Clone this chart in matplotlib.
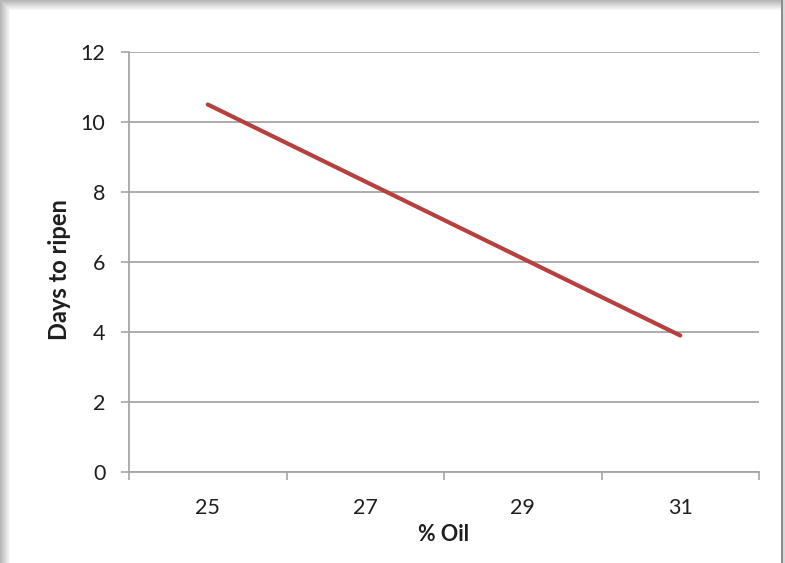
import numpy as np
import matplotlib
matplotlib.use("Agg")
import matplotlib.pyplot as plt

# ---- data ----
oil_pct = ["25", "27", "29", "31"]
days_to_ripen = [10.5, 8.3, 6.1, 3.9]
y_ticks = [0, 2, 4, 6, 8, 10, 12]

LINE_COLOR = "#b6403d"
GRID_COLOR = "#a6a6a6"
TEXT_COLOR = "#1e1e1e"

plt.rcParams["font.family"] = ["Lato", "DejaVu Sans"]

W, H, DPI = 785, 563, 100
fig = plt.figure(figsize=(W / DPI, H / DPI), dpi=DPI)

# card background with a soft drop shadow on the left/top edges
bg = np.ones((H, W))
ramp = np.linspace(0.72, 0.97, 10)
for i, v in enumerate(ramp):
    bg[i:, i] = np.minimum(bg[i:, i], v)
    bg[i, i:] = np.minimum(bg[i, i:], v)
bg[:, 781:783] = 0.55
bg[:, 783:] = 0.85
fig.figimage(np.dstack([bg, bg, bg]), xo=0, yo=0, origin="upper", zorder=-5)

ax = fig.add_axes([129 / W, 1 - 472 / H, (759 - 129) / W, (472 - 52) / H])
ax.set_facecolor("none")
ax.set_zorder(2)

x = np.arange(len(oil_pct))
ax.plot(x, days_to_ripen, color=LINE_COLOR, lw=3.0, solid_capstyle="round", zorder=3)

ax.set_xlim(-0.5, len(oil_pct) - 0.5)
ax.set_ylim(0, 12)
ax.set_yticks(y_ticks)
ax.grid(axis="y", color=GRID_COLOR, lw=1.3)
ax.set_axisbelow(True)

# category axis: tick marks between categories, labels centred on them
ax.set_xticks(np.arange(-0.5, len(oil_pct)), labels=[""] * (len(oil_pct) + 1))
ax.set_xticks(x, labels=oil_pct, minor=True)
ax.tick_params(axis="x", which="major", length=6, width=1.2, color=GRID_COLOR, direction="out")
ax.tick_params(axis="x", which="minor", length=0, pad=19, labelsize=15.5, labelcolor=TEXT_COLOR)
ax.tick_params(axis="y", length=6, width=1.2, color=GRID_COLOR, pad=11, labelsize=15.5,
               labelcolor=TEXT_COLOR)

for side in ("top", "right"):
    ax.spines[side].set_visible(False)
for side in ("left", "bottom"):
    ax.spines[side].set_color(GRID_COLOR)
    ax.spines[side].set_linewidth(1.3)

ax.set_xlabel("% Oil", fontsize=15.5, fontweight="bold", color=TEXT_COLOR, labelpad=4)
ax.set_ylabel("Days to ripen", fontsize=17, fontweight="bold", color=TEXT_COLOR)
ax.yaxis.set_label_coords(-0.092, 0.482)

fig.savefig("out.png", dpi=DPI)
